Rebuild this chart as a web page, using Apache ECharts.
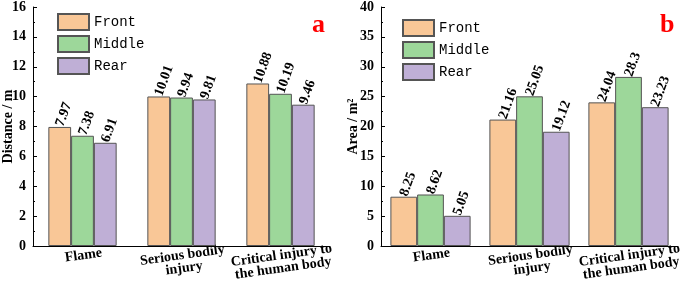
<!DOCTYPE html>
<html><head><meta charset="utf-8">
<script src="https://cdn.jsdelivr.net/npm/echarts@6/dist/echarts.min.js"></script>
<style>html,body{margin:0;padding:0;background:#fff}#c{width:685px;height:285px}</style>
</head><body><div id="c"></div>
<script>
const categories = ['Flame', 'Serious bodily\ninjury', 'Critical injury to\nthe human body'];
const seriesNames = ['Front', 'Middle', 'Rear'];
const distFront = [7.97, 10.01, 10.88];
const distMiddle = [7.38, 9.94, 10.19];
const distRear = [6.91, 9.81, 9.46];
const areaFront = [8.25, 21.16, 24.04];
const areaMiddle = [8.62, 25.05, 28.3];
const areaRear = [5.05, 19.12, 23.23];
const distTicks = {min: 0, max: 16, interval: 2};
const areaTicks = {min: 0, max: 40, interval: 5};

const colors = ['#F9C797', '#9DD79A', '#BFAFD6'];
const serif = '"Liberation Serif", "DejaVu Serif", serif';

function xAxis(i) {
  return {
    type: 'category', gridIndex: i, data: categories,
    axisLine: {lineStyle: {color: '#000', width: 1}},
    axisTick: {show: false},
    axisLabel: {rotate: 8, align: 'center', verticalAlign: 'top', margin: 3,
      fontFamily: serif, fontWeight: 'bold', fontSize: 14, color: '#000', lineHeight: 13, interval: 0}
  };
}
function yAxis(i, t, name, gap) {
  return {
    type: 'value', gridIndex: i, min: t.min, max: t.max, interval: t.interval,
    name: name, nameLocation: 'middle', nameGap: gap, nameMoveOverlap: false,
    nameTextStyle: {fontFamily: serif, fontWeight: 'bold', fontSize: 14, color: '#000'},
    axisLine: {show: true, lineStyle: {color: '#000', width: 1}},
    axisTick: {show: true, inside: true, length: 4, lineStyle: {color: '#000'}},
    minorTick: {show: true, splitNumber: 2, length: 2, lineStyle: {color: '#000'}},
    splitLine: {show: false},
    axisLabel: {fontFamily: serif, fontWeight: 'bold', fontSize: 14, color: '#000', margin: 7}
  };
}
function bar(name, data, idx, g, gap) {
  return {
    type: 'bar', name: name, data: data, xAxisIndex: g, yAxisIndex: g,
    barGap: '0%', barCategoryGap: gap,
    itemStyle: {color: colors[idx], borderColor: '#555', borderWidth: 1},
    label: {show: true, position: 'top', rotate: 70, align: 'left', verticalAlign: 'middle', distance: 1,
      fontFamily: serif, fontWeight: 'bold', fontSize: 14, color: '#000'}
  };
}
const legendBase = {
  orient: 'vertical', data: seriesNames, itemWidth: 31, itemHeight: 16, itemGap: 4,
  icon: 'rect',
  textStyle: {fontFamily: '"Liberation Mono", "DejaVu Sans Mono", monospace', fontSize: 14, color: '#000'}
};
const chart = echarts.init(document.getElementById('c'), null, {renderer: 'canvas'});
chart.setOption({
  animation: false,
  title: [
    {text: 'a', left: 307, top: 7, textStyle: {color: '#f00', fontFamily: serif, fontWeight: 'bold', fontSize: 26}},
    {text: 'b', left: 655, top: 7, textStyle: {color: '#f00', fontFamily: serif, fontWeight: 'bold', fontSize: 26}}
  ],
  legend: [
    Object.assign({left: 52, top: 8}, legendBase),
    Object.assign({left: 397, top: 14}, legendBase)
  ],
  grid: [
    {left: 33, top: 7, width: 297, height: 239, outerBoundsMode: 'none', containLabel: false},
    {left: 381, top: 7, width: 297, height: 239, outerBoundsMode: 'none', containLabel: false}
  ],
  xAxis: [xAxis(0), xAxis(1)],
  yAxis: [yAxis(0, distTicks, 'Distance / m', 18), yAxis(1, areaTicks, 'Area / m²', 21)],
  series: [
    bar('Front', distFront, 0, 0, '31%'),
    bar('Middle', distMiddle, 1, 0, '31%'),
    bar('Rear', distRear, 2, 0, '31%'),
    bar('Front', areaFront, 0, 1, '19%'),
    bar('Middle', areaMiddle, 1, 1, '19%'),
    bar('Rear', areaRear, 2, 1, '19%')
  ]
});
</script></body></html>
